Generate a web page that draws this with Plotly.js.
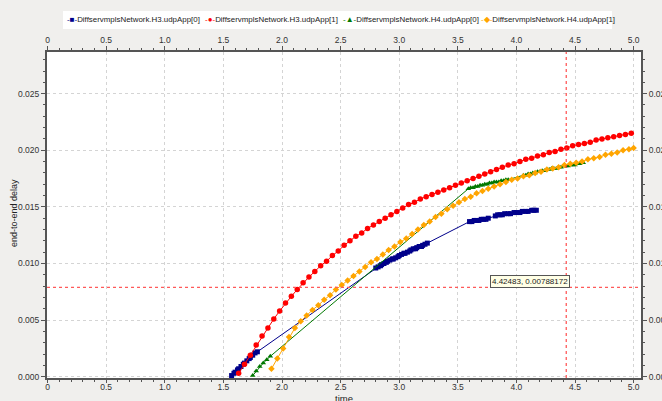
<!DOCTYPE html>
<html>
<head>
<meta charset="utf-8">
<script src="https://cdn.plot.ly/plotly-3.0.1.min.js"></script>
<style>html,body{margin:0;padding:0;background:#f0efed;}#chart{width:662px;height:401px;}</style>
</head>
<body>
<div id="chart"></div>
<script>
// ---- data ----
const seriesNames = [
  "DiffservmplsNetwork.H3.udpApp[0]",
  "DiffservmplsNetwork.H3.udpApp[1]",
  "DiffservmplsNetwork.H4.udpApp[0]",
  "DiffservmplsNetwork.H4.udpApp[1]"
];

const h3app0X = [1.57,1.59,1.60,1.62,1.63,1.65,1.67,1.68,1.70,1.72,1.73,1.75,1.77,1.79,
  2.80,2.82,2.84,2.85,2.87,2.89,2.90,2.92,2.94,2.95,2.97,2.99,3.00,3.02,3.04,3.05,3.07,3.09,3.10,3.12,3.14,3.15,3.17,3.19,3.20,3.22,3.24,
  3.60,3.62,3.64,3.66,3.68,3.70,3.72,3.74,3.76,
  3.82,3.84,3.86,3.88,3.90,3.93,3.95,3.98,4.00,4.03,4.05,4.08,4.10,4.13,4.15,4.17];
const h3app0Y = [0.0001,0.0003,0.0004,0.0006,0.0007,0.0009,0.0011,0.0012,0.0014,0.0016,0.0017,0.0019,0.0021,0.0022,
  0.0096,0.0097,0.0098,0.0099,0.0100,0.0101,0.0102,0.0103,0.0104,0.0104,0.0105,0.0106,0.0107,0.0108,0.0109,0.0109,0.0110,0.0111,0.0112,0.0113,0.0113,0.0114,0.0115,0.0115,0.0116,0.0117,0.0118,
  0.0137,0.0137,0.0138,0.0138,0.0138,0.0139,0.0139,0.0139,0.0140,
  0.0142,0.0143,0.0143,0.0143,0.0144,0.0144,0.0144,0.0145,0.0145,0.0145,0.0146,0.0146,0.0146,0.0147,0.0147,0.0147];

const h3app1X = [1.63,1.68,1.73,1.78,1.83,1.88,1.93,1.98,2.03,2.08,2.13,2.18,2.23,2.28,2.33,2.38,2.43,2.48,2.53,2.58,
  2.63,2.68,2.73,2.78,2.83,2.88,2.93,2.98,3.03,3.08,3.13,3.18,3.23,3.28,3.33,3.38,3.43,3.48,3.53,3.58,
  3.63,3.68,3.73,3.78,3.83,3.88,3.93,3.98,4.03,4.08,4.13,4.18,4.23,4.28,4.33,4.38,4.43,4.48,4.53,4.58,
  4.63,4.68,4.73,4.78,4.83,4.88,4.93,4.98];
const h3app1Y = [0.0003,0.0011,0.0019,0.0028,0.0036,0.0043,0.0051,0.0058,0.0065,0.0071,0.0077,0.0083,0.0088,0.0093,0.0098,0.0102,0.0107,0.0111,0.0116,0.0120,
  0.0124,0.0127,0.0131,0.0134,0.0137,0.0140,0.0143,0.0146,0.0149,0.0152,0.0154,0.0157,0.0159,0.0161,0.0163,0.0165,0.0167,0.0169,0.0171,0.0173,
  0.0175,0.0177,0.0179,0.0181,0.0183,0.0185,0.0187,0.0188,0.0190,0.0192,0.0193,0.0195,0.0196,0.0198,0.0199,0.0201,0.0202,0.0204,0.0205,0.0206,
  0.0207,0.0209,0.0210,0.0211,0.0212,0.0213,0.0214,0.0215];

const h4app0X = [1.75,1.78,1.81,1.84,1.87,1.90,
  3.59,3.61,3.63,3.65,3.67,3.69,3.71,3.73,3.75,3.77,3.79,3.81,3.83,3.85,3.87,3.89,3.91,3.93,
  4.06,4.08,4.10,4.12,4.14,4.16,4.18,4.20,4.22,4.24,4.26,4.28,4.30,4.32,4.34,4.36,4.38,4.40,4.42,4.44,4.46,4.48,4.50,4.52,4.54,4.56,4.57];
const h4app0Y = [0.0001,0.0005,0.0009,0.0012,0.0015,0.0018,
  0.0166,0.0167,0.0167,0.0168,0.0168,0.0169,0.0169,0.0170,0.0170,0.0171,0.0171,0.0172,0.0172,0.0172,0.0173,0.0173,0.0174,0.0174,
  0.0178,0.0178,0.0179,0.0179,0.0180,0.0180,0.0181,0.0181,0.0182,0.0182,0.0183,0.0183,0.0184,0.0184,0.0184,0.0185,0.0185,0.0186,0.0186,0.0186,0.0187,0.0187,0.0187,0.0188,0.0188,0.0189,0.0189];

const h4app1X = [1.91,1.96,2.01,2.06,2.11,2.16,2.21,2.26,2.31,2.36,2.41,2.46,2.51,2.56,2.61,2.66,2.71,2.76,2.81,2.86,
  2.91,2.96,3.01,3.06,3.11,3.16,3.21,3.26,3.31,3.36,3.41,3.46,3.51,3.56,3.61,3.66,3.71,3.76,3.81,3.86,
  3.91,3.96,4.01,4.06,4.11,4.16,4.21,4.26,4.31,4.36,4.41,4.46,4.51,4.56,4.61,4.66,4.71,4.76,4.81,4.86,4.91,4.96,5.00];
const h4app1Y = [0.0007,0.0016,0.0025,0.0035,0.0043,0.0049,0.0054,0.0059,0.0063,0.0068,0.0072,0.0077,0.0081,0.0085,0.0089,0.0093,0.0097,0.0101,0.0104,0.0108,
  0.0112,0.0115,0.0119,0.0122,0.0126,0.0130,0.0134,0.0137,0.0141,0.0144,0.0148,0.0151,0.0154,0.0157,0.0159,0.0162,0.0164,0.0166,0.0168,0.0170,
  0.0172,0.0174,0.0175,0.0177,0.0178,0.0180,0.0181,0.0183,0.0184,0.0185,0.0187,0.0188,0.0189,0.0190,0.0192,0.0193,0.0194,0.0196,0.0197,0.0198,0.0200,0.0201,0.0202];

const xTickVals = [0,0.5,1.0,1.5,2.0,2.5,3.0,3.5,4.0,4.5,5.0];
const xTickText = ["0","0.5","1.0","1.5","2.0","2.5","3.0","3.5","4.0","4.5","5.0"];
const yTickVals = [0,0.005,0.010,0.015,0.020,0.025];
const yTickText = ["0.000","0.005","0.010","0.015","0.020","0.025"];

const cursorX = 4.42483;
const cursorY = 0.00788172;
const cursorLabel = "4.42483, 0.00788172";
const xTitle = "time";
const yTitle = "end-to-end delay";

// ---- styles ----
const colors = ["#00008b", "#ff0000", "#007800", "#ffa500"];
const symbols = ["square", "circle", "triangle-up", "diamond"];
const glyphs = ["■", "●", "▲", "◆"];
const xs = [h3app0X, h3app1X, h4app0X, h4app1X];
const ys = [h3app0Y, h3app1Y, h4app0Y, h4app1Y];

const traces = seriesNames.map((n, i) => ({
  type: "scatter", mode: "lines+markers", name: n,
  x: xs[i], y: ys[i],
  line: {color: colors[i], width: 1},
  marker: {color: colors[i], symbol: symbols[i], size: i === 1 ? 5.5 : 5, line: {width: 0}},
  showlegend: false, hoverinfo: "skip"
}));
// empty carrier so that the top and right axes are drawn
traces.push({type: "scatter", mode: "none", x: [], y: [], xaxis: "x2", yaxis: "y2", showlegend: false, hoverinfo: "skip"});

const L = 47, R = 21, T = 52, B = 23, W = 662, H = 401;
const pw = W - L - R, ph = H - T - B;
const px2paperX = p => (p - L) / pw;
const py2paperY = p => (H - B - p) / ph;

const tickFont = {family: "Liberation Sans, Arial, sans-serif", size: 8.5, color: "#333"};
const axisCommon = {
  showline: true, linecolor: "#555", linewidth: 2,
  ticks: "outside", ticklen: 4, tickcolor: "#555", tickwidth: 1,
  tickfont: tickFont, zeroline: false, automargin: false, fixedrange: true
};
const xRange = [-0.005, 5.063];
const yRange = [-0.000115, 0.02868];

const legendPx = [65, 203, 341, 479];
const annotations = [];
seriesNames.forEach((n, i) => {
  annotations.push({
    xref: "paper", yref: "paper", x: px2paperX(legendPx[i]), y: py2paperY(20),
    xanchor: "left", yanchor: "middle", showarrow: false,
    text: '<span style="color:' + colors[i] + ';font-size:8px">-' + glyphs[i] + '-</span>' + n,
    font: {family: "Liberation Sans, Arial, sans-serif", size: 7.9, color: "#222"}
  });
});
annotations.push({
  xref: "paper", yref: "paper", x: 0.5, y: py2paperY(398), xanchor: "center", yanchor: "middle",
  showarrow: false, text: xTitle, font: {family: "Liberation Sans, Arial, sans-serif", size: 9.5, color: "#222"}
});
annotations.push({
  xref: "paper", yref: "paper", x: px2paperX(14), y: py2paperY(213), xanchor: "center", yanchor: "middle",
  showarrow: false, textangle: -90, text: yTitle, font: {family: "Liberation Sans, Arial, sans-serif", size: 9, color: "#222"}
});
annotations.push({
  xref: "x", yref: "y", x: 3.775, y: 0.00845, xanchor: "left", yanchor: "middle",
  showarrow: false, text: cursorLabel, bgcolor: "#ffffe6", bordercolor: "#555", borderwidth: 1, borderpad: 1,
  font: {family: "Liberation Sans, Arial, sans-serif", size: 8, color: "#222"}
});

const shapes = [
  {type: "rect", xref: "paper", yref: "paper", x0: px2paperX(63), x1: px2paperX(612), y0: py2paperY(29), y1: py2paperY(11),
   fillcolor: "#ffffff", line: {width: 0}, layer: "below"},
  {type: "line", xref: "x", yref: "paper", x0: cursorX, x1: cursorX, y0: 0, y1: 1, layer: "above",
   line: {color: "rgb(255,40,40)", width: 1, dash: "dot"}},
  {type: "line", xref: "x", yref: "y", x0: xRange[0], x1: xRange[1], y0: cursorY, y1: cursorY, layer: "above",
   line: {color: "rgb(255,90,90)", width: 1.3, dash: "dot"}}
];

const layout = {
  width: W, height: H,
  margin: {l: L, r: R, t: T, b: B, pad: 0},
  paper_bgcolor: "#f0efed", plot_bgcolor: "#ffffff",
  showlegend: false,
  xaxis: Object.assign({}, axisCommon, {
    range: xRange, tickmode: "array", tickvals: xTickVals, ticktext: xTickText, side: "bottom",
    ticklen: 3, ticklabelstandoff: -3,
    showgrid: true, gridcolor: "#d4d4d4", griddash: "3px,3px", gridwidth: 1,
    minor: {tickmode: "linear", tick0: 0, dtick: 0.1, ticklen: 2, tickcolor: "#555", showgrid: false}
  }),
  xaxis2: Object.assign({}, axisCommon, {
    range: xRange, tickmode: "array", tickvals: xTickVals, ticktext: xTickText, side: "top",
    overlaying: "x", anchor: "y", showgrid: false,
    minor: {tickmode: "linear", tick0: 0, dtick: 0.1, ticklen: 2, tickcolor: "#555", showgrid: false}
  }),
  yaxis: Object.assign({}, axisCommon, {
    range: yRange, tickmode: "array", tickvals: yTickVals, ticktext: yTickText, side: "left",
    showgrid: true, gridcolor: "#d4d4d4", griddash: "3px,3px", gridwidth: 1,
    minor: {tickmode: "linear", tick0: 0, dtick: 0.001, ticklen: 2, tickcolor: "#555", showgrid: false}
  }),
  yaxis2: Object.assign({}, axisCommon, {
    range: yRange, tickmode: "array", tickvals: yTickVals, ticktext: yTickText, side: "right",
    overlaying: "y", anchor: "x", showgrid: false,
    minor: {tickmode: "linear", tick0: 0, dtick: 0.001, ticklen: 2, tickcolor: "#555", showgrid: false}
  }),
  annotations: annotations,
  shapes: shapes
};

Plotly.newPlot("chart", traces, layout, {staticPlot: true, displayModeBar: false});
</script>
</body>
</html>
